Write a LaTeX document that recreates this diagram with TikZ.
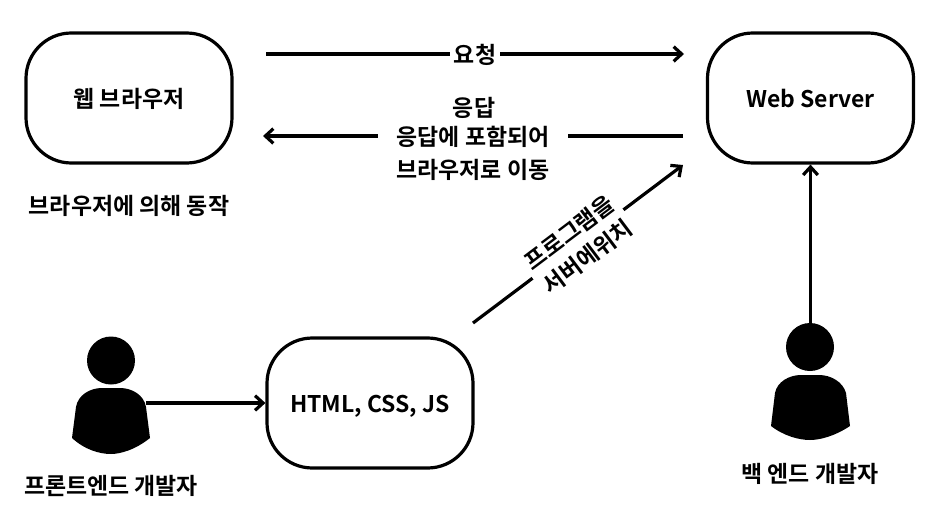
\documentclass[tikz,border=0pt]{standalone}
\usepackage{fontspec}
\setmainfont{Noto Sans CJK KR}[BoldFont={Noto Sans CJK KR Bold}]
\usetikzlibrary{arrows.meta}
\tikzset{
 box/.style={draw,line width=2.4pt,rounded corners=34pt,minimum width=154.5pt,minimum height=97.5pt,inner sep=0pt,text height=15.5pt,text depth=1pt,font=\bfseries\fontsize{17.2pt}{22.5pt}\selectfont},
 lab/.style={font=\bfseries\fontsize{17.2pt}{22.5pt}\selectfont,inner sep=0pt,align=center,text=black},
 gap/.style={lab,fill=white,inner xsep=3pt,inner ysep=0pt},
 oneline/.style={text height=15.5pt,text depth=1pt},
 conn/.style={line width=2.4pt,-{Straight Barb[length=6pt,width=11pt,line width=2.4pt]}},
 person/.style={fill=black,draw=none}
}
\begin{document}
\begin{tikzpicture}[x=0.75pt,y=-0.75pt]
\useasboundingbox (0,0) rectangle (932,525);
\fill[white] (0,0) rectangle (932,525);
\node[box] (b) at (129,98) {웹 브라우저};
\node[box] (w) at (810.5,98) {Web Server};
\node[box] (h) at (370,403) {HTML, CSS, JS};
\coordinate (a1) at (266,54);
\coordinate (a2) at (684,54);
\coordinate (r1) at (683,136);
\coordinate (r2) at (263,136);
\coordinate (p1) at (473,323);
\coordinate (p2) at (683,165);
\coordinate (fe) at (146,403);
\coordinate (be) at (810.5,323);
\draw[conn] (a1) -- (a2) node[gap,oneline,midway] {요청};
\draw[conn] (r1) -- (r2) node[gap,oneline,pos=0.5,inner xsep=14pt] {응답에 포함되어};
\node[lab] (r0) at (474,108) {응답};
\node[lab] (r3) at (473,169.5) {브라우저로 이동};
\draw[conn] (p1) -- (p2) node[gap,midway,sloped,yshift=-0.5pt] {프로그램을\\서버에위치};
\node[lab] (bl) at (129,206) {브라우저에 의해 동작};
\draw[conn] (fe) -- (h.west);
\draw[conn] (be) -- (w.south);
\fill[person] (111,360.5) circle (24);
\fill[person] (72,438) -- (76,407) .. controls (78,395) and (90,388) .. (102,388) -- (120,388) .. controls (132,388) and (144,395) .. (146,407) -- (150,438) .. controls (135,450) and (120,454) .. (111,454) .. controls (100,454) and (85,450) .. (72,438) -- cycle;
\fill[person] (810,347) circle (24);
\fill[person] (771,426) -- (775,393) .. controls (777,382) and (789,375) .. (801,375) -- (819,375) .. controls (831,375) and (843,382) .. (846,393) -- (850,426) .. controls (835,436) and (820,440) .. (810,440) .. controls (799,440) and (784,436) .. (771,426) -- cycle;
\node[lab] (fl) at (111,486) {프론트엔드 개발자};
\node[lab] (bel) at (810,474) {백 엔드 개발자};
\end{tikzpicture}
\end{document}
